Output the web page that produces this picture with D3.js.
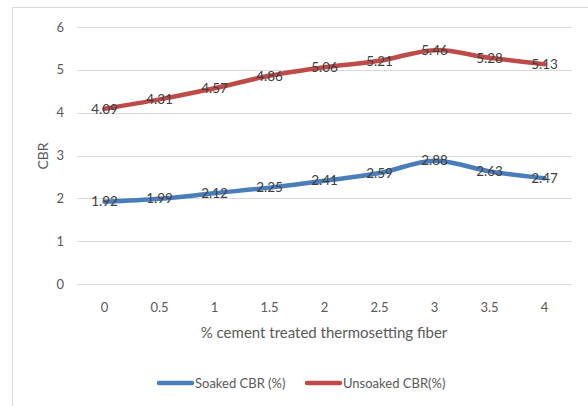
<!DOCTYPE html>
<html><head><meta charset="utf-8">
<script src="https://cdn.jsdelivr.net/npm/d3@7"></script>
<style>body{margin:0;background:#fff}svg{display:block}</style>
</head><body>
<script>
const categories = ["0","0.5","1","1.5","2","2.5","3","3.5","4"];
const soaked = [1.92,1.99,2.12,2.25,2.41,2.59,2.88,2.63,2.47];
const unsoaked = [4.09,4.31,4.57,4.86,5.06,5.21,5.46,5.28,5.13];
const yTicks = [0,1,2,3,4,5,6];
const seriesNames = ["Soaked CBR (%)","Unsoaked CBR(%)"];
const colors = ["#4A7EBB","#BE4B48"];
const font = "Lato, 'Open Sans', sans-serif";

const W=588,H=406;
const svg=d3.select("body").append("svg").attr("width",W).attr("height",H);
svg.append("rect").attr("x",12.5).attr("y",7.5).attr("width",600).attr("height",420)
  .attr("fill","#fff").attr("stroke","#d9d9d9");

const x=d3.scaleBand().domain(categories).range([77,572]);
const y=d3.scaleLinear().domain([0,6]).range([284,27]);

const g=svg.append("g");
g.selectAll("line.grid").data(yTicks).join("line")
  .attr("x1",77).attr("x2",572).attr("y1",d=>Math.round(y(d))+0.5).attr("y2",d=>Math.round(y(d))+0.5)
  .attr("stroke","#d9d9d9").attr("stroke-width",1);

g.selectAll("text.yt").data(yTicks).join("text")
  .attr("x",64).attr("y",d=>y(d)).attr("dy","0.35em").attr("text-anchor","end")
  .attr("font-family",font).attr("font-size",13).attr("fill","#595959").text(d=>d);

g.selectAll("text.xt").data(categories).join("text")
  .attr("x",d=>x(d)+x.bandwidth()/2).attr("y",307).attr("dy","0.35em").attr("text-anchor","middle")
  .attr("font-family",font).attr("font-size",13).attr("fill","#595959").text(d=>d);

svg.append("text").attr("x",324).attr("y",333).attr("dy","0.35em").attr("text-anchor","middle")
  .attr("font-family",font).attr("font-size",15).attr("fill","#595959").text("% cement treated thermosetting fiber");
svg.append("text").attr("transform","translate(43,156) rotate(-90)").attr("dy","0.35em").attr("text-anchor","middle")
  .attr("font-family",font).attr("font-size",14).attr("fill","#595959").text("CBR");

const line=d3.line().x((d,i)=>x(categories[i])+x.bandwidth()/2).y(d=>y(d)).curve(d3.curveCatmullRom.alpha(0.5));
[soaked,unsoaked].forEach((s,k)=>{
  svg.append("path").attr("d",line(s)).attr("fill","none").attr("stroke",colors[k])
    .attr("stroke-width",4.5).attr("stroke-linecap","round");
});
[soaked,unsoaked].forEach((s,k)=>{
  svg.append("g").selectAll("text").data(s).join("text")
    .attr("x",(d,i)=>x(categories[i])+x.bandwidth()/2).attr("y",d=>y(d)).attr("dy","0.35em")
    .attr("text-anchor","middle").attr("font-family",font).attr("font-size",13.5).attr("fill","#404040")
    .text(d=>d.toFixed(2));
});

// legend
const leg=[{x:159,name:seriesNames[0],c:colors[0]},{x:307,name:seriesNames[1],c:colors[1]}];
leg.forEach(l=>{
  svg.append("line").attr("x1",l.x).attr("x2",l.x+33).attr("y1",383).attr("y2",383)
    .attr("stroke",l.c).attr("stroke-width",4.5).attr("stroke-linecap","round");
  svg.append("text").attr("x",l.x+36).attr("y",383).attr("dy","0.35em")
    .attr("font-family",font).attr("font-size",13).attr("fill","#595959").text(l.name);
});
</script>
</body></html>
